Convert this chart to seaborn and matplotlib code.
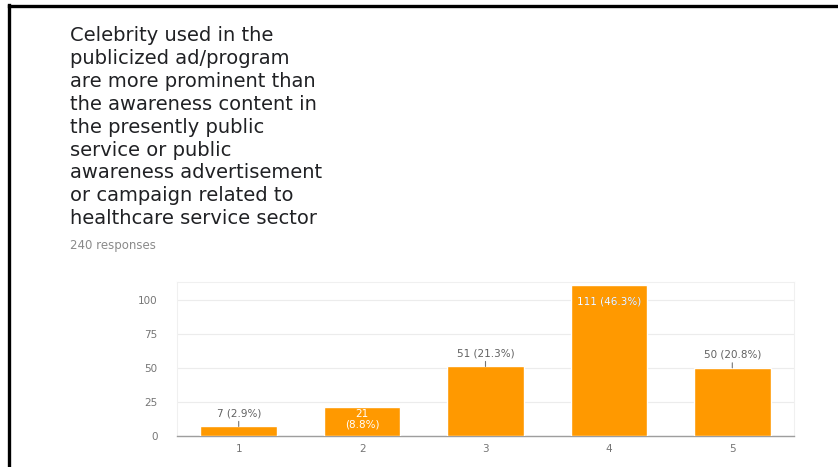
import matplotlib
matplotlib.use('Agg')
import matplotlib.pyplot as plt
from matplotlib.lines import Line2D
import seaborn as sns
import pandas as pd

# 데이터
categories = ['1', '2', '3', '4', '5']
counts = [7, 21, 51, 111, 50]
percents = ['2.9%', '8.8%', '21.3%', '46.3%', '20.8%']
yticks = [0, 25, 50, 75, 100]
title_lines = [
    'Celebrity used in the',
    'publicized ad/program',
    'are more prominent than',
    'the awareness content in',
    'the presently public',
    'service or public',
    'awareness advertisement',
    'or campaign related to',
    'healthcare service sector',
]
responses = '240 responses'

sns.set_style('white')
plt.rcParams['font.family'] = ['DejaVu Sans']

W, H = 838, 467
fig = plt.figure(figsize=(W / 100, H / 100), dpi=100)

# 테두리 (왼쪽, 위쪽)
fig.add_artist(Line2D([9 / W, 9 / W], [0, 1 - 5 / H], color='black', lw=2.4,
                      transform=fig.transFigure, solid_capstyle='projecting'))
fig.add_artist(Line2D([9 / W, 1], [1 - 6 / H, 1 - 6 / H], color='black', lw=2.4,
                      transform=fig.transFigure, solid_capstyle='projecting'))

# 제목
for i, line in enumerate(title_lines):
    y = 41 + i * 22.9
    fig.text(70 / W, 1 - y / H, line, fontsize=14, color='#202124',
             ha='left', va='baseline')
fig.text(70 / W, 1 - 249 / H, responses, fontsize=8.5, color='#8a8a8a',
         ha='left', va='baseline')

# 막대 그래프
ax_l, ax_r, ax_b, ax_t = 177, 794, 436, 282
ax = fig.add_axes([ax_l / W, 1 - ax_b / H, (ax_r - ax_l) / W, (ax_b - ax_t) / H])
df = pd.DataFrame({'cat': categories, 'n': counts})
sns.barplot(data=df, x='cat', y='n', color='#ff9900', saturation=1, width=0.62,
            ax=ax, zorder=3)
ax.set_xlim(-0.5, 4.5)
ax.set_ylim(0, 113)
ax.set_yticks(yticks)
ax.set_xlabel('')
ax.set_ylabel('')
ax.grid(axis='y', color='#ececec', lw=0.8, zorder=0)
for s in ['left', 'right', 'top']:
    ax.spines[s].set_color('#f0f0f0')
    ax.spines[s].set_linewidth(0.8)
ax.spines['bottom'].set_color('#9e9e9e')
ax.spines['bottom'].set_linewidth(1.0)
ax.tick_params(axis='both', length=0, labelsize=7.5, labelcolor='#757575')
ax.tick_params(axis='y', pad=14)
ax.tick_params(axis='x', pad=6)

# 라벨
bars = ax.patches
for i, (n, p) in enumerate(zip(counts, percents)):
    if i == 1:
        ax.text(i, n - 1.5, f'{n}\n({p})', ha='center', va='top', fontsize=7.5,
                color='white', linespacing=1.0, zorder=5)
    elif i == 3:
        t = f'{n} ({p})'
        ax.annotate(t, xy=(i, n), xytext=(0, -12), textcoords='offset points',
                    ha='center', va='center', fontsize=7.5, color='#757575', zorder=4)
        tw = ax.annotate(t, xy=(i, n), xytext=(0, -12), textcoords='offset points',
                         ha='center', va='center', fontsize=7.5, color='white', zorder=5)
        tw.set_clip_path(bars[i])
    else:
        ax.annotate(f'{n} ({p})', xy=(i, n), xytext=(0, 6), textcoords='offset points',
                    ha='center', va='bottom', fontsize=7.5, color='#616161', zorder=5,
                    arrowprops=dict(arrowstyle='-', color='#757575', lw=0.8,
                                    shrinkA=0, shrinkB=0))

fig.savefig('out.png', dpi=100)
